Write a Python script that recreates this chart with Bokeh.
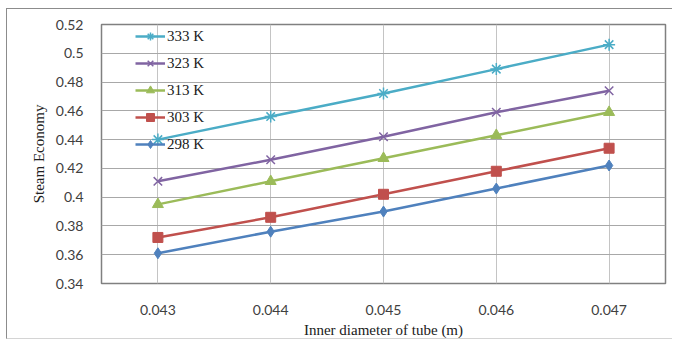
from bokeh.plotting import figure
from bokeh.models import Range1d, FixedTicker, PrintfTickFormatter, Legend
from bokeh.embed import file_html
from bokeh.resources import INLINE

diameters = [0.043, 0.044, 0.045, 0.046, 0.047]
series_names = ["333 K", "323 K", "313 K", "303 K", "298 K"]
se_333 = [0.440, 0.456, 0.472, 0.489, 0.506]
se_323 = [0.411, 0.426, 0.442, 0.459, 0.474]
se_313 = [0.395, 0.411, 0.427, 0.443, 0.459]
se_303 = [0.372, 0.386, 0.402, 0.418, 0.434]
se_298 = [0.361, 0.376, 0.390, 0.406, 0.422]
y_ticks = [0.34, 0.36, 0.38, 0.40, 0.42, 0.44, 0.46, 0.48, 0.50, 0.52]
y_tick_labels = ["0.34", "0.36", "0.38", "0.4", "0.42", "0.44", "0.46", "0.48", "0.5", "0.52"]

series = [se_333, se_323, se_313, se_303, se_298]
colors = ["#4BACC6", "#8064A2", "#9BBB59", "#C0504D", "#4F81BD"]
markers = ["asterisk", "x", "triangle", "square", "diamond"]
sizes = [12, 12, 11, 10, 11]

p = figure(width=666, height=331, output_backend="svg", toolbar_location=None,
           x_range=Range1d(0.0425, 0.0475), y_range=Range1d(0.34, 0.52),
           min_border_left=94, min_border_right=8, min_border_top=15, min_border_bottom=53,
           styles={"margin-left": "6px", "margin-top": "8px",
                   "border-left": "1px solid #8c8c8c", "border-top": "1px solid #8c8c8c",
                   "border-bottom": "1px solid #d4d4d4"})
p.background_fill_color = "white"
p.border_fill_color = "white"
p.outline_line_color = "#808080"
p.outline_line_width = 1.5

p.xaxis.ticker = FixedTicker(ticks=diameters)
p.xaxis.formatter = PrintfTickFormatter(format="%.3f")
p.yaxis.ticker = FixedTicker(ticks=y_ticks)
p.yaxis.major_label_overrides = {t: l for t, l in zip(y_ticks, y_tick_labels)}

for ax in (p.xaxis[0], p.yaxis[0]):
    ax.axis_line_color = None
    ax.major_tick_line_color = None
    ax.minor_tick_line_color = None
    ax.major_label_text_font = "Lato"
    ax.major_label_text_font_size = "14px"
    ax.major_label_text_color = "#404040"
    ax.axis_label_text_font = "Liberation Serif"
    ax.axis_label_text_font_size = "15px"
    ax.axis_label_text_font_style = "normal"
    ax.axis_label_text_color = "#202020"

p.xaxis.major_label_standoff = 15
p.yaxis.major_label_standoff = 12
p.xaxis.axis_label = "Inner diameter of tube (m)"
p.xaxis.axis_label_standoff = 4
p.yaxis.axis_label = "Steam Economy"
p.yaxis.axis_label_standoff = 6

p.xgrid.grid_line_color = "#c4c4c4"
p.ygrid.grid_line_color = "#a8a8a8"
p.xgrid.grid_line_width = 1
p.ygrid.grid_line_width = 1

items = []
for name, ys, c, m, s in zip(series_names, series, colors, markers, sizes):
    r1 = p.line(diameters, ys, line_color=c, line_width=2.5)
    r2 = p.scatter(diameters, ys, marker=m, size=s, fill_color=c, line_color=c,
                   line_width=1.5 if m in ("asterisk", "x") else 1)
    items.append((name, [r1, r2]))

legend = Legend(items=items, location=(34, 129), padding=0, margin=0, spacing=7,
                glyph_width=30, glyph_height=20, label_height=20, label_standoff=2,
                label_text_font="Liberation Serif", label_text_font_size="15px",
                label_text_color="#202020",
                background_fill_alpha=0, border_line_color=None)
p.add_layout(legend, "center")

open("out.html", "w").write(file_html(p, INLINE))
